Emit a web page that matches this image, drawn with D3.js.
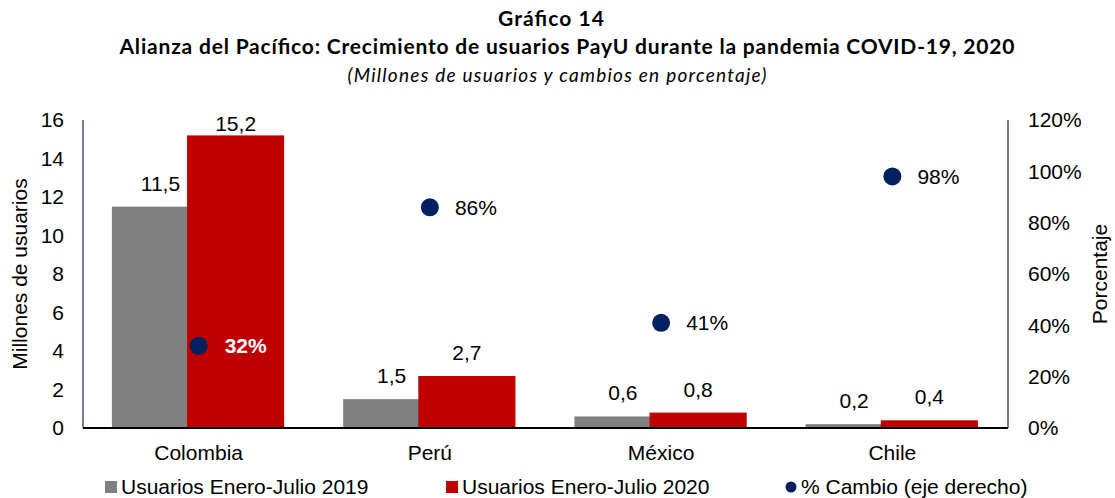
<!DOCTYPE html>
<html>
<head>
<meta charset="utf-8">
<script src="https://cdn.jsdelivr.net/npm/d3@7"></script>
<style>
  body { margin: 0; background: #fff; }
  svg { display: block; }
  .tick-lbl, .val, .cat, .leg, .axis-title { font-family: "Liberation Sans", Arial, sans-serif; fill: #000; font-size: 21px; }
</style>
</head>
<body>
<svg id="chart" width="1115" height="498"></svg>
<script>
var paises = ["Colombia", "Perú", "México", "Chile"];
var usuarios2019 = [11.5, 1.5, 0.6, 0.2];
var usuarios2020 = [15.2, 2.7, 0.8, 0.4];
var cambio = [0.32, 0.86, 0.41, 0.98];
var ticksIzq = [0, 2, 4, 6, 8, 10, 12, 14, 16];
var ticksDer = [0, 0.2, 0.4, 0.6, 0.8, 1.0, 1.2];

var svg = d3.select("#chart");

var mLeft = 83, mRight = 1008, mTop = 120, mBottom = 428;

var x = d3.scaleBand().domain(paises).range([mLeft, mRight]).padding(0);
var y = d3.scaleLinear().domain([0, 16]).range([mBottom, mTop]);
var y2 = d3.scaleLinear().domain([0, 1.2]).range([mBottom, mTop]);

var bw = x.bandwidth();
var barW = bw * 0.42;
var off2019 = bw * 0.125;
var off2020 = bw * 0.45;

var fmt = function(v) { return d3.format(".1f")(v).replace(".", ","); };
var pct = function(v) { return Math.round(v * 100) + "%"; };

/* Titles */
svg.append("text")
	.attr("x", 551).attr("y", 26)
	.attr("text-anchor", "middle")
	.style("font-family", "Lato, sans-serif")
	.style("font-weight", "bold")
	.style("font-size", "21px")
	.attr("textLength", 106)
	.text("Gráfico 14");

svg.append("text")
	.attr("x", 567).attr("y", 54)
	.attr("text-anchor", "middle")
	.style("font-family", "Lato, sans-serif")
	.style("font-weight", "bold")
	.style("font-size", "21px")
	.attr("textLength", 895)
	.text("Alianza del Pacífico: Crecimiento de usuarios PayU durante la pandemia COVID-19, 2020");

svg.append("text")
	.attr("x", 557).attr("y", 82)
	.attr("text-anchor", "middle")
	.style("font-family", "Lato, sans-serif")
	.style("font-style", "italic")
	.style("font-size", "19px")
	.attr("textLength", 419)
	.text("(Millones de usuarios y cambios en porcentaje)");

/* Bars */
svg.selectAll(".b2019")
	.data(usuarios2019)
	.enter()
	.append("rect")
	.attr("class", "b2019")
	.attr("x", function(d, i) { return x(paises[i]) + off2019; })
	.attr("y", function(d) { return y(d); })
	.attr("width", barW)
	.attr("height", function(d) { return mBottom - y(d); })
	.attr("fill", "#808080");

svg.selectAll(".b2020")
	.data(usuarios2020)
	.enter()
	.append("rect")
	.attr("class", "b2020")
	.attr("x", function(d, i) { return x(paises[i]) + off2020; })
	.attr("y", function(d) { return y(d); })
	.attr("width", barW)
	.attr("height", function(d) { return mBottom - y(d); })
	.attr("fill", "#C00000");

/* Bar value labels */
var labelY = function(d) { return Math.max(y(d) - 16, mTop + 11); };

svg.selectAll(".v2019")
	.data(usuarios2019)
	.enter()
	.append("text")
	.attr("class", "val")
	.attr("x", function(d, i) { return x(paises[i]) + off2019 + barW / 2; })
	.attr("y", labelY)
	.attr("text-anchor", "middle")
	.text(fmt);

svg.selectAll(".v2020")
	.data(usuarios2020)
	.enter()
	.append("text")
	.attr("class", "val")
	.attr("x", function(d, i) { return x(paises[i]) + off2020 + barW / 2; })
	.attr("y", labelY)
	.attr("text-anchor", "middle")
	.text(fmt);

/* Axes lines */
svg.append("line")
	.attr("x1", mLeft).attr("x2", mLeft)
	.attr("y1", mTop).attr("y2", mBottom)
	.attr("stroke", "#44546A").attr("stroke-width", 1.5);

svg.append("line")
	.attr("x1", mRight).attr("x2", mRight)
	.attr("y1", mTop).attr("y2", mBottom)
	.attr("stroke", "#44546A").attr("stroke-width", 1.5);

svg.append("line")
	.attr("x1", mLeft).attr("x2", mRight)
	.attr("y1", mBottom).attr("y2", mBottom)
	.attr("stroke", "#000").attr("stroke-width", 2);

/* Tick labels */
svg.selectAll(".tl")
	.data(ticksIzq)
	.enter()
	.append("text")
	.attr("class", "tick-lbl")
	.attr("x", 64)
	.attr("y", function(d) { return y(d); })
	.attr("dy", "0.35em")
	.attr("text-anchor", "end")
	.text(function(d) { return d; });

svg.selectAll(".tr")
	.data(ticksDer)
	.enter()
	.append("text")
	.attr("class", "tick-lbl")
	.attr("x", 1028)
	.attr("y", function(d) { return y2(d); })
	.attr("dy", "0.35em")
	.attr("text-anchor", "start")
	.text(pct);

/* Category labels */
svg.selectAll(".cat")
	.data(paises)
	.enter()
	.append("text")
	.attr("class", "cat")
	.attr("x", function(d) { return x(d) + bw / 2; })
	.attr("y", 460)
	.attr("text-anchor", "middle")
	.text(function(d) { return d; });

/* Axis titles */
svg.append("text")
	.attr("class", "axis-title")
	.attr("transform", "translate(27,274) rotate(-90)")
	.attr("text-anchor", "middle")
	.text("Millones de usuarios");

svg.append("text")
	.attr("class", "axis-title")
	.attr("transform", "translate(1107,274) rotate(-90)")
	.attr("text-anchor", "middle")
	.text("Porcentaje");

/* Dots */
svg.selectAll(".dot")
	.data(cambio)
	.enter()
	.append("circle")
	.attr("class", "dot")
	.attr("cx", function(d, i) { return x(paises[i]) + bw / 2; })
	.attr("cy", function(d) { return y2(d); })
	.attr("r", 9)
	.attr("fill", "#002060");

svg.selectAll(".dl")
	.data(cambio)
	.enter()
	.append("text")
	.attr("class", "val")
	.attr("x", function(d, i) { return x(paises[i]) + bw / 2 + (i === 0 ? 26 : 25); })
	.attr("y", function(d) { return y2(d); })
	.attr("dy", "0.35em")
	.style("font-weight", function(d, i) { return i === 0 ? "bold" : "normal"; })
	.style("fill", function(d, i) { return i === 0 ? "#fff" : "#000"; })
	.text(pct);

/* Legend */
var leg = svg.append("g");
leg.append("rect").attr("x", 105).attr("y", 481).attr("width", 12).attr("height", 12).attr("fill", "#808080");
leg.append("text").attr("class", "leg").attr("x", 121).attr("y", 494).text("Usuarios Enero-Julio 2019");
leg.append("rect").attr("x", 446).attr("y", 481).attr("width", 12).attr("height", 12).attr("fill", "#C00000");
leg.append("text").attr("class", "leg").attr("x", 462).attr("y", 494).text("Usuarios Enero-Julio 2020");
leg.append("circle").attr("cx", 791).attr("cy", 487).attr("r", 5.5).attr("fill", "#002060");
leg.append("text").attr("class", "leg").attr("x", 801).attr("y", 494).text("% Cambio (eje derecho)");
</script>
</body>
</html>
